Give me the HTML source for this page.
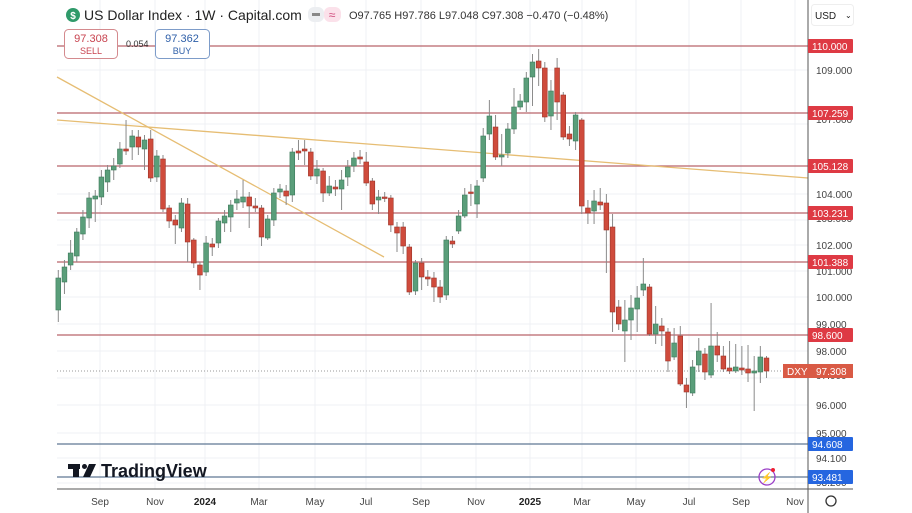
<!DOCTYPE html>
<html><head><meta charset="utf-8"><style>
body{margin:0;background:#fff;width:912px;height:513px;overflow:hidden;font-family:"Liberation Sans",sans-serif}
svg{position:absolute;left:0;top:0}
</style></head><body>
<svg id="s" width="912" height="513" xmlns="http://www.w3.org/2000/svg" font-family="Liberation Sans, sans-serif">
<rect width="912" height="513" fill="#fff"/>
<g id="grid" stroke="#eff1f4" stroke-width="1"></g>
<g id="lev"></g>
<line x1="57" y1="77" x2="384" y2="257" stroke="#e6bd73" stroke-width="1.3"/>
<line x1="57" y1="120" x2="808" y2="178" stroke="#e6bd73" stroke-width="1.3"/>
<line x1="57" y1="371" x2="808" y2="371" stroke="#999" stroke-width="1" stroke-dasharray="1,2"/>
<g id="c"></g>
<line x1="808" y1="0" x2="808" y2="513" stroke="#555" stroke-width="1"/>
<line x1="57" y1="489" x2="853" y2="489" stroke="#555" stroke-width="1"/>
<g id="ax" font-size="10" fill="#444"></g>
<g id="lab" font-size="10" fill="#fff"></g>
<circle cx="73" cy="15" r="7" fill="#2f9a6a"/>
<text x="73" y="19" font-size="10" font-weight="bold" fill="#fff" text-anchor="middle">$</text>
<text x="84" y="20" font-size="14" fill="#222">US Dollar Index · 1W · Capital.com</text>
<rect x="308" y="7" width="16" height="15" rx="6" fill="#eceef1"/>
<rect x="312" y="13" width="8" height="3" fill="#888"/>
<rect x="324" y="7" width="17" height="15" rx="6" fill="#fbe1ea"/>
<text x="332" y="19" font-size="12" fill="#d0487a" text-anchor="middle">≈</text>
<text x="349" y="19" font-size="11" fill="#333">O97.765 H97.786 L97.048 C97.308 −0.470 (−0.48%)</text>
<rect x="64.5" y="29.5" width="53" height="29" rx="4" fill="#fff" stroke="#d48a8e"/>
<text x="91" y="42" font-size="11" fill="#c84450" text-anchor="middle">97.308</text>
<text x="91" y="54" font-size="9" fill="#c84450" text-anchor="middle">SELL</text>
<text x="126" y="47" font-size="9" fill="#333">0.054</text>
<rect x="155.5" y="29.5" width="54" height="29" rx="4" fill="#fff" stroke="#7d9cc9"/>
<text x="182" y="42" font-size="11" fill="#2e5fa8" text-anchor="middle">97.362</text>
<text x="182" y="54" font-size="9" fill="#2e5fa8" text-anchor="middle">BUY</text>
<rect x="811.5" y="4.5" width="42" height="21" rx="3" fill="#fff" stroke="#eee"/>
<text x="815" y="19" font-size="10" fill="#222">USD</text>
<text x="845" y="18" font-size="8" fill="#222">⌄</text>
<g fill="#131722">
<rect x="68" y="464" width="12" height="5"/><rect x="73" y="464" width="6" height="13"/>
<circle cx="84.5" cy="466.5" r="2.5"/>
<polygon points="89,464 96,464 90,477 83,477"/>
</g>
<text x="101" y="477" font-size="18" font-weight="bold" fill="#131722">TradingView</text>
<circle cx="767" cy="477" r="8" fill="none" stroke="#9b3fc7" stroke-width="1.3"/>
<text x="767" y="481" font-size="10" fill="#9b3fc7" text-anchor="middle">⚡</text>
<circle cx="773" cy="470" r="2" fill="#e23"/>
<circle cx="831" cy="501" r="5" fill="none" stroke="#333" stroke-width="1.3"/>
</svg>
<script>
const NS="http://www.w3.org/2000/svg";
function el(p,t,a,txt){const e=document.createElementNS(NS,t);for(const k in a)e.setAttribute(k,a[k]);if(txt!==undefined)e.textContent=txt;document.getElementById(p).appendChild(e);return e;}
[100,155,205,259,315,366,421,476,530,582,636,689,741,795].forEach(x=>el('grid','line',{x1:x,y1:0,x2:x,y2:489}));
[70,124,194,220,245,271,297,324,351,378,405,433,458,483].forEach(y=>el('grid','line',{x1:57,y1:y,x2:808,y2:y}));
[46,113,166,213,262,335].forEach(y=>el('lev','line',{x1:57,y1:y,x2:808,y2:y,stroke:'#b9646b','stroke-width':1.2}));
[444,477].forEach(y=>el('lev','line',{x1:57,y1:y,x2:808,y2:y,stroke:'#5f7895','stroke-width':1.2}));
[["109.000",70],["107.000",119],["104.000",194],["103.000",218],["102.000",245],["101.000",271],["100.000",297],["99.000",324],["98.000",351],["97.000",375],["96.000",405],["95.000",433],["94.100",458],["93.200",482]].forEach(([t,y])=>el('ax','text',{x:816,y:y+4},t));
[["Sep",100],["Nov",155],["2024",205],["Mar",259],["May",315],["Jul",366],["Sep",421],["Nov",476],["2025",530],["Mar",582],["May",636],["Jul",689],["Sep",741],["Nov",795]].forEach(([t,x])=>{const e=el('ax','text',{x:x,y:505,'text-anchor':'middle'},t);if(t.length==4&&t[0]=='2'){e.setAttribute('font-weight','bold');e.setAttribute('fill','#222')}});
[["110.000",46,'#de3a44'],["107.259",113,'#de3a44'],["105.128",166,'#de3a44'],["103.231",213,'#de3a44'],["101.388",262,'#de3a44'],["98.600",335,'#de3a44'],["94.608",444,'#2566e0'],["93.481",477,'#2566e0']].forEach(([t,y,c])=>{el('lab','rect',{x:808,y:y-7,width:45,height:14,fill:c,rx:1});el('lab','text',{x:812,y:y+4},t);});
el('lab','rect',{x:783,y:364,width:70,height:14,fill:'#d95a45'});
el('lab','text',{x:787,y:375},'DXY');el('lab','text',{x:816,y:375},'97.308');
const C=[
['g',278,310,270,322],['g',267,282,260,294],['g',253,265,240,270],['g',232,256,228,262],['g',217,234,210,240],['g',198,218,192,228],['g',196,199,190,222],['g',177,197,170,205],['g',170,182,165,192],['g',166,170,158,180],['g',149,164,142,168],['r',149,151,120,155],['g',136,147,130,160],['r',137,147,130,155],['g',140,149,135,170],['r',139,178,130,182],['g',156,177,150,182],['r',159,209,155,212],['r',208,221,205,228],['r',220,225,215,244],['g',203,228,198,232],['r',204,242,198,262],['r',240,263,238,268],['r',265,275,262,290],['g',243,272,236,276],['r',244,247,238,256],['g',221,243,218,248],['g',216,223,210,232],['g',205,217,200,232],['g',199,203,190,210],['g',197,202,180,208],['r',197,206,192,228],['r',206,208,198,212],['r',208,237,205,246],['g',219,238,215,240],['g',193,220,188,226],['g',189,192,184,198],['r',191,196,185,205],['g',152,195,148,202],['r',151,153,140,160],['r',149,151,140,165],['r',152,176,148,180],['g',169,176,160,184],['r',171,193,168,202],['g',186,193,176,196],['r',187,189,180,196],['g',180,189,170,210],['g',167,177,160,186],['g',158,166,152,172],['r',157,159,150,164],['r',162,183,152,186],['r',181,204,178,210],['g',197,200,190,214],['r',197,198,192,202],['r',198,225,195,232],
['r',227,233,222,252],['r',227,246,222,254],['r',247,292,244,295],['g',263,291,260,295],['r',263,277,258,290],['r',277,279,270,286],['r',278,287,272,302],['r',287,297,280,303],['g',240,295,236,300],['r',241,244,236,248],['g',216,231,210,234],['g',195,216,188,218],['r',192,193,184,206],['g',186,204,180,218],['g',136,178,128,182],['g',116,134,100,140],['r',127,157,115,160],['g',155,157,134,166],['g',129,153,123,158],['g',107,129,88,134],['g',101,107,94,110],['g',78,102,72,112],['g',62,77,54,106],['r',61,68,49,86],['r',68,117,62,122],['g',91,116,80,130],['r',68,102,58,120],['r',95,137,92,140],['r',134,139,126,146],['g',115,141,112,150],['r',120,206,118,214],['r',208,213,200,224],['g',201,211,190,224],['r',202,205,188,210],['r',203,230,194,273],['r',227,312,214,332],['r',307,324,300,330],['g',320,331,300,362],['g',308,320,295,340],['g',298,309,286,332],['g',284,290,258,296],['r',287,334,284,336],['g',324,334,306,344],['r',326,331,318,346],['r',332,361,328,372],['g',343,357,328,360],['r',336,384,326,386],['r',385,392,378,408],['g',367,393,360,396],['g',351,365,338,372],['r',354,372,348,380],['g',346,375,303,378],['r',346,355,332,362],['r',356,369,346,372],['r',368,371,341,374],['g',367,371,344,373],['r',368,370,346,375],['r',369,373,345,382],['g',371,373,356,411],['g',357,372,346,383],['r',358,371,356,378]];
const x0=58.3,st=(766.5-58.3)/(C.length-1);
C.forEach((c,i)=>{const x=x0+i*st;const col=c[0]=='g'?'#5a9e7a':'#cf4b3c';const dk=c[0]=='g'?'#3d7a5b':'#9c3328';
el('c','line',{x1:x,y1:c[3],x2:x,y2:c[4],stroke:'#8a8a8a','stroke-width':1});
el('c','rect',{x:x-2.4,y:c[1],width:4.8,height:Math.max(1.5,c[2]-c[1]),fill:col,stroke:dk,'stroke-width':0.6});});
</script>
</body></html>
